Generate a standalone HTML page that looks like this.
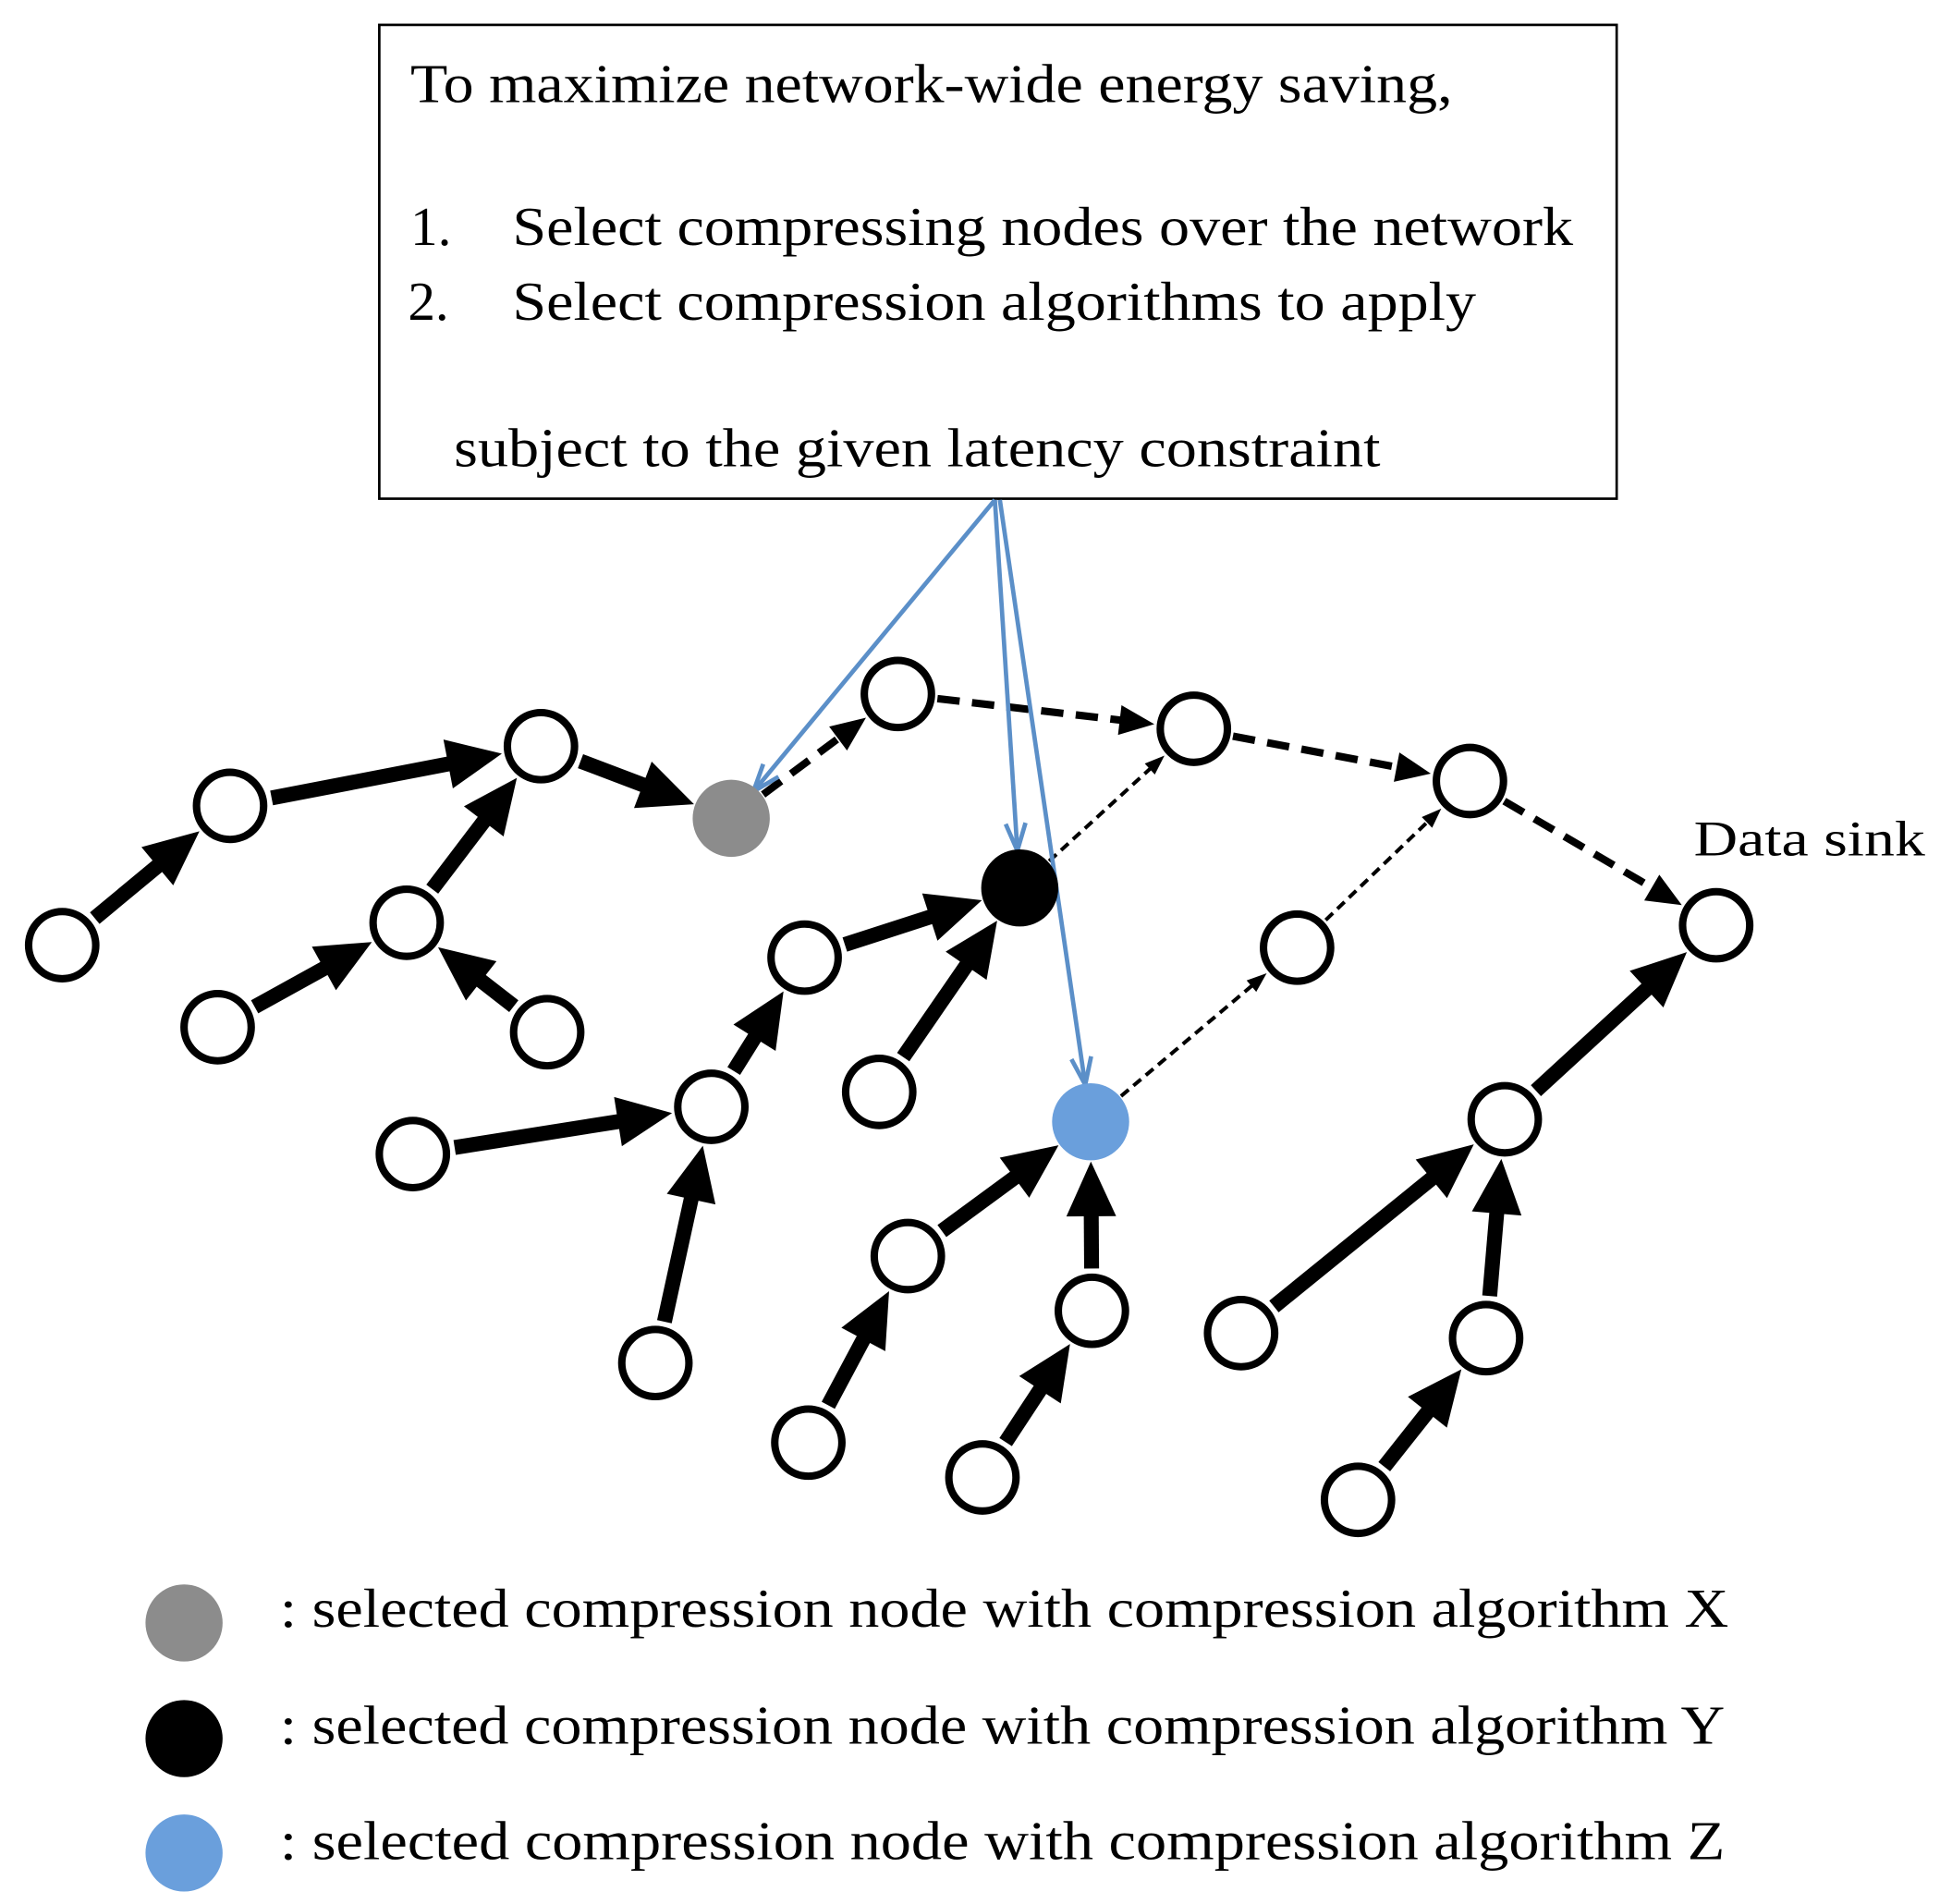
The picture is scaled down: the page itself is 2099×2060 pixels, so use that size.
<!DOCTYPE html>
<html><head><meta charset="utf-8"><style>
html,body{margin:0;padding:0;background:#fff;}
svg{display:block;}
text{font-family:"Liberation Serif",serif;fill:#000;}
</style></head><body>
<svg id="s" width="2099" height="2060" viewBox="0 0 1560 1531" preserveAspectRatio="none" xmlns="http://www.w3.org/2000/svg">
<rect x="0" y="0" width="1560" height="1531" fill="#fff"/>
<rect x="305" y="20" width="995" height="381" fill="#fff" stroke="#000" stroke-width="2"/>
<text x="330" y="82" font-size="44" textLength="838" lengthAdjust="spacingAndGlyphs">To maximize network-wide energy saving,</text>
<text x="330" y="197" font-size="44">1.</text>
<text x="412" y="197" font-size="44" textLength="853" lengthAdjust="spacingAndGlyphs">Select compressing nodes over the network</text>
<text x="328" y="257" font-size="44">2.</text>
<text x="412" y="257" font-size="44" textLength="775" lengthAdjust="spacingAndGlyphs">Select compression algorithms to apply</text>
<text x="365" y="375" font-size="44" textLength="745" lengthAdjust="spacingAndGlyphs">subject to the given latency constraint</text>
<text x="1362" y="688" font-size="40" textLength="186" lengthAdjust="spacingAndGlyphs">Data sink</text>
<g id="edges"></g>
<g id="nodes"></g>
<circle cx="148" cy="1305" r="31" fill="#8c8c8c"/>
<circle cx="148" cy="1398" r="31" fill="#000"/>
<circle cx="148" cy="1490" r="31" fill="#6a9fdc"/>
<text x="225" y="1308" font-size="44" textLength="1165" lengthAdjust="spacingAndGlyphs">: selected compression node with compression algorithm X</text>
<text x="225" y="1402" font-size="44" textLength="1162" lengthAdjust="spacingAndGlyphs">: selected compression node with compression algorithm Y</text>
<text x="225" y="1495" font-size="44" textLength="1162" lengthAdjust="spacingAndGlyphs">: selected compression node with compression algorithm Z</text>
</svg>
<script>
var N={A1:[50,760],A2:[185,648],A3:[435,600],A4:[327,742],A5:[175,826],A6:[440,830],
G:[588,658],N1:[722,558],N2:[960,586],N3:[1182,628],S:[1380,744],B:[820,714],
C1:[647,770],C2:[572,890],C3:[332,928],C4:[527,1096],C5:[707,878],N4:[1043,762],
Z:[877,902],D1:[730,1010],D2:[878,1054],D3:[650,1160],D4:[790,1188],
E1:[1210,900],E2:[998,1072],E3:[1195,1076],E4:[1092,1206]};
var fill={G:"#8c8c8c",B:"#000",Z:"#6a9fdc"};
var ns="http://www.w3.org/2000/svg";
function el(t,a,p){var e=document.createElementNS(ns,t);for(var k in a)e.setAttribute(k,a[k]);p.appendChild(e);return e;}
var E=document.getElementById("edges"),ND=document.getElementById("nodes");
function arrow(a,b,w,dash,hl,hw,color,r1,r2,open){
 var p=N[a]||a,q=N[b]||b;var dx=q[0]-p[0],dy=q[1]-p[1],L=Math.hypot(dx,dy),ux=dx/L,uy=dy/L;
 var sx=p[0]+ux*r1,sy=p[1]+uy*r1,ex=q[0]-ux*r2,ey=q[1]-uy*r2;
 var bx=ex-ux*hl,by=ey-uy*hl;
 var attrs={x1:sx,y1:sy,x2:open?ex:bx+ux*2,y2:open?ey:by+uy*2,stroke:color,"stroke-width":w};
 if(dash)attrs["stroke-dasharray"]=dash;
 el("line",attrs,E);
 var px=-uy,py=ux;
 if(open){
  el("polyline",{points:(bx+px*hw)+","+(by+py*hw)+" "+ex+","+ey+" "+(bx-px*hw)+","+(by-py*hw),fill:"none",stroke:color,"stroke-width":w},E);
 }else{
  el("polygon",{points:ex+","+ey+" "+(bx+px*hw)+","+(by+py*hw)+" "+(bx-px*hw)+","+(by-py*hw),fill:color},E);
 }
}
var R=30;
[["A1","A2"],["A2","A3"],["A4","A3"],["A5","A4"],["A6","A4"],["A3","G"],["C1","B"],["C5","B"],["C2","C1"],["C3","C2"],["C4","C2"],["D1","Z"],["D2","Z"],["D3","D1"],["D4","D2"],["E1","S"],["E2","E1"],["E3","E1"],["E4","E3"]].forEach(function(e){arrow(e[0],e[1],12,null,44,20,"#000",R+4,R+2);});
[["G","N1"],["N1","N2"],["N2","N3"],["N3","S"]].forEach(function(e){arrow(e[0],e[1],6,"18,10",28,12,"#000",R+2,R+2);});
[["B","N2"],["N4","N3"],["Z","N4"]].forEach(function(e){arrow(e[0],e[1],3,"8,5",16,6,"#000",R+2,R+2);});
var src=[800,402];
arrow(src,"G",3.5,null,22,8,"#5b8fc8",0,R-2,true);
arrow(src,"B",3.5,null,22,8,"#5b8fc8",0,R+0,true);
arrow([804,402],"Z",3.5,null,22,8,"#5b8fc8",0,R,true);
for(var k in N){var f=fill[k];el("circle",f?{cx:N[k][0],cy:N[k][1],r:31,fill:f}:{cx:N[k][0],cy:N[k][1],r:27,fill:"#fff",stroke:"#000","stroke-width":6},ND);}
</script>
</body></html>
